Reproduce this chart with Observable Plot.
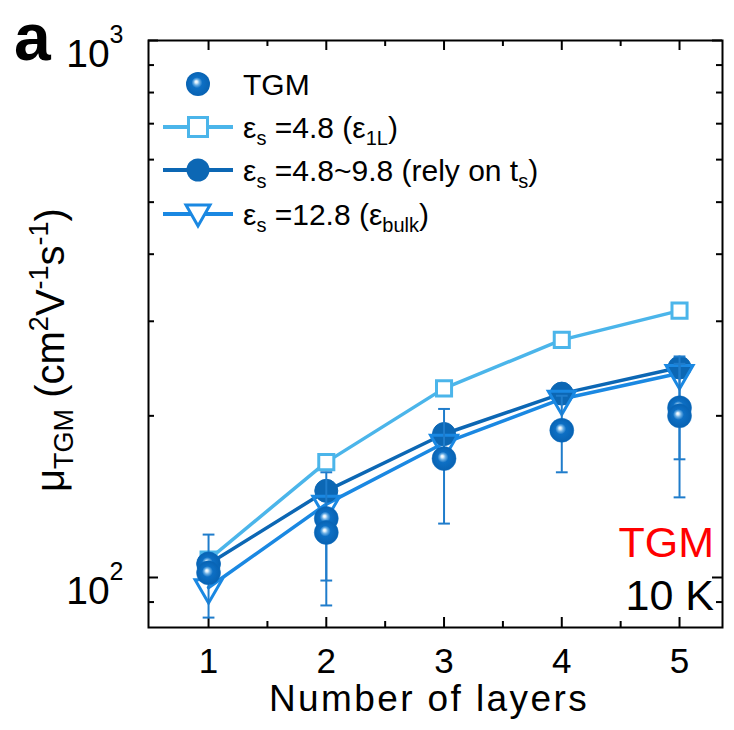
<!DOCTYPE html>
<html><head><meta charset="utf-8">
<script src="https://cdn.jsdelivr.net/npm/d3@7"></script>
<script src="https://cdn.jsdelivr.net/npm/@observablehq/plot@0.6"></script>
<style>body{margin:0;background:#fff}#chart{width:734px;height:730px}</style>
</head><body><div id="chart"></div>
<script>
// ---- data ----
const layers = [1, 2, 3, 4, 5];
const eps1L = [108, 164, 225, 277, 314];      // εs = 4.8 (ε1L)
const epsTs = [106, 145, 185, 220, 246];      // εs = 4.8~9.8 (rely on ts)
const epsBulk = [95.8, 137, 178, 215, 240];   // εs = 12.8 (εbulk)
const tgmX = [1, 1, 2, 2, 3, 4, 5, 5];
const tgmY = [106, 102, 128.8, 121.3, 166.5, 188, 207, 200];
const tgmLo = [84.2, null, 98.7, 88.7, 126, 157, 166, 141];
const tgmHi = [120.2, null, 157, 125, 206, 218, 258, 250];
const xTicks = [1, 2, 3, 4, 5];
const xTickLabels = ["1", "2", "3", "4", "5"];
const xMinor = [1.5, 2.5, 3.5, 4.5];
const yTicks = [100, 1000];
const yTickBase = ["10", "10"];
const yTickExp = ["2", "3"];
const yMinor = [90, 200, 300, 400, 500, 600, 700, 800, 900];
const legendLabels = [
  ["TGM"],
  ["ε", "s", " =4.8 (ε", "1L", ")"],
  ["ε", "s", " =4.8~9.8 (rely on t", "s", ")"],
  ["ε", "s", " =12.8 (ε", "bulk", ")"]
];

const W = 734, H = 730, mL = 148, mR = 12, mT = 40, mB = 103;
const pw = W - mL - mR, ph = H - mT - mB;
const FONT = "'Liberation Sans', Arial, sans-serif";
const cLight = "#4bb5ea", cDark = "#0c67b4", cBulk = "#1a88e2", cTGM = "#0a6cc0", cErr = "#1f7ccb";

const model = (ys) => layers.map((x, i) => ({x, y: ys[i]}));
const tgm = tgmX.map((x, i) => ({x, y: tgmY[i], lo: tgmLo[i], hi: tgmHi[i]}));
const tgmErr = tgm.filter(d => d.lo != null);
const capW = 0.05;

const plot = Plot.plot({
  width: W, height: H,
  marginLeft: mL, marginRight: mR, marginTop: mT, marginBottom: mB,
  style: {fontFamily: FONT, background: "white", color: "black"},
  x: {domain: [0.49, 5.365], axis: null},
  y: {type: "log", domain: [80.7, 1000], axis: null},
  marks: [
    // tick marks (inward, on all four sides)
    Plot.tickX(xTicks, {x: d => d, insetTop: ph - 10, stroke: "black", strokeWidth: 2}),
    Plot.tickX(xMinor, {x: d => d, insetTop: ph - 6, stroke: "black", strokeWidth: 2}),
    Plot.tickX(xTicks, {x: d => d, insetBottom: ph - 10, stroke: "black", strokeWidth: 2}),
    Plot.tickX(xMinor, {x: d => d, insetBottom: ph - 6, stroke: "black", strokeWidth: 2}),
    Plot.tickY(yTicks, {y: d => d, insetRight: pw - 10, stroke: "black", strokeWidth: 2}),
    Plot.tickY(yMinor, {y: d => d, insetRight: pw - 6, stroke: "black", strokeWidth: 2}),
    Plot.tickY(yTicks, {y: d => d, insetLeft: pw - 10, stroke: "black", strokeWidth: 2}),
    Plot.tickY(yMinor, {y: d => d, insetLeft: pw - 6, stroke: "black", strokeWidth: 2}),
    Plot.axisX(xTicks, {tickSize: 0, tickPadding: 21, fontSize: 35, label: null,
      tickFormat: d => xTickLabels[xTicks.indexOf(d)]}),
    Plot.axisY(yTicks, {tickSize: 0, tickPadding: 25, fontSize: 39, label: null,
      tickFormat: d => yTickBase[yTicks.indexOf(d)]}),
    // model lines
    Plot.line(model(eps1L), {x: "x", y: "y", stroke: cLight, strokeWidth: 3.5}),
    Plot.line(model(epsTs), {x: "x", y: "y", stroke: cDark, strokeWidth: 3.5}),
    Plot.line(model(epsBulk), {x: "x", y: "y", stroke: cBulk, strokeWidth: 3.5}),
    Plot.dot(model(eps1L), {x: "x", y: "y", symbol: "square", r: 8.5, fill: "white", stroke: cLight, strokeWidth: 3}),
    Plot.dot(model(epsTs), {x: "x", y: "y", r: 11.5, fill: cDark, stroke: cDark, strokeWidth: 1}),
    Plot.dot(model(epsBulk), {x: "x", y: "y", symbol: "triangle", rotate: 180, r: 10, fill: "none", stroke: cBulk, strokeWidth: 3}),
    // TGM error bars
    Plot.ruleX(tgmErr, {x: "x", y1: "lo", y2: "hi", stroke: cErr, strokeWidth: 2}),
    Plot.link(tgmErr, {x1: d => d.x - capW, x2: d => d.x + capW, y1: "lo", y2: "lo", stroke: cErr, strokeWidth: 2}),
    Plot.link(tgmErr, {x1: d => d.x - capW, x2: d => d.x + capW, y1: "hi", y2: "hi", stroke: cErr, strokeWidth: 2}),
    // TGM points
    Plot.dot(tgm, {x: "x", y: "y", r: 12, fill: "url(#tgmGrad)", stroke: cTGM, strokeWidth: 0.5}),
    Plot.frame({stroke: "black", strokeWidth: 2})
  ]
});
document.getElementById("chart").appendChild(plot);

const svg = d3.select(plot);
const defs = svg.insert("defs", ":first-child");
const g = defs.append("radialGradient").attr("id", "tgmGrad")
  .attr("cx", 0.5).attr("cy", 0.5).attr("r", 0.5).attr("fx", 0.42).attr("fy", 0.4);
[[0, "#ffffff"], [0.1, "#e0f0fb"], [0.25, "#6aaee4"], [0.45, "#0d6fc4"], [1, "#0862b2"]]
  .forEach(([o, c]) => g.append("stop").attr("offset", o).attr("stop-color", c));

// superscript exponents on the y tick labels (10², 10³)
svg.selectAll('g[aria-label="y-axis tick label"] text').each(function (_, k) {
  const t = d3.select(this);
  t.attr("dy", "0.36em");
  t.append("tspan").attr("font-size", 25).attr("dy", "-0.95em").text(yTickExp[k]);
});

const ann = svg.append("g").attr("font-family", FONT).attr("text-anchor", "start");

function richText(sel, parts, size, subSize, sub) {
  parts.forEach((p, i) => {
    const isSub = i % 2 === 1;
    const t = sel.append("tspan").text(p).attr("font-size", isSub ? subSize : size);
    if (i > 0) t.attr("dy", isSub ? sub : -sub);
  });
}

// legend
const lx = 163, lx2 = 233, mx = 198, tx = 243;
const rows = [84, 127, 170, 214];
ann.append("circle").attr("cx", mx).attr("cy", rows[0]).attr("r", 12).attr("fill", "url(#tgmGrad)");
const legColors = [null, cLight, cDark, cBulk];
for (let k = 1; k < 4; k++) {
  ann.append("line").attr("x1", lx).attr("x2", lx2).attr("y1", rows[k]).attr("y2", rows[k])
    .attr("stroke", legColors[k]).attr("stroke-width", 4);
}
ann.append("rect").attr("x", mx - 9.5).attr("y", rows[1] - 9.5).attr("width", 19).attr("height", 19)
  .attr("fill", "white").attr("stroke", cLight).attr("stroke-width", 3);
ann.append("circle").attr("cx", mx).attr("cy", rows[2]).attr("r", 11.5).attr("fill", cDark);
ann.append("path").attr("d", `M${mx - 12},${rows[3] - 9}L${mx + 12},${rows[3] - 9}L${mx},${rows[3] + 12}Z`)
  .attr("fill", "white").attr("stroke", cBulk).attr("stroke-width", 3);
legendLabels.forEach((parts, k) => {
  const t = ann.append("text").attr("x", tx).attr("y", rows[k] + 11).attr("fill", "black");
  richText(t, parts, 30, 20, 7);
});

// y axis label
const yl = ann.append("text").attr("transform", "translate(64,350) rotate(-90)")
  .attr("text-anchor", "middle").attr("fill", "black");
[["μ", 40, 0], ["TGM", 27, 9], [" (cm", 40, -9], ["2", 27, -16], ["V", 40, 16], ["-1", 27, -16],
 ["s", 40, 16], ["-1", 27, -16], [")", 40, 16]].forEach(([s, fs, dy]) =>
  yl.append("tspan").text(s).attr("font-size", fs).attr("dy", dy));

// x axis label
ann.append("text").attr("x", 429).attr("y", 711).attr("text-anchor", "middle")
  .attr("font-size", 37).attr("letter-spacing", 2.4).attr("fill", "black").text("Number of layers");

// panel letter
ann.append("text").attr("x", 14).attr("y", 60).attr("font-size", 66).attr("font-weight", "bold")
  .attr("fill", "black").text("a");

// in-plot annotations
ann.append("text").attr("x", 714).attr("y", 557).attr("text-anchor", "end")
  .attr("font-size", 43).attr("fill", "#ff0000").text("TGM");
ann.append("text").attr("x", 714).attr("y", 610).attr("text-anchor", "end")
  .attr("font-size", 43).attr("fill", "black").text("10 K");
</script></body></html>
